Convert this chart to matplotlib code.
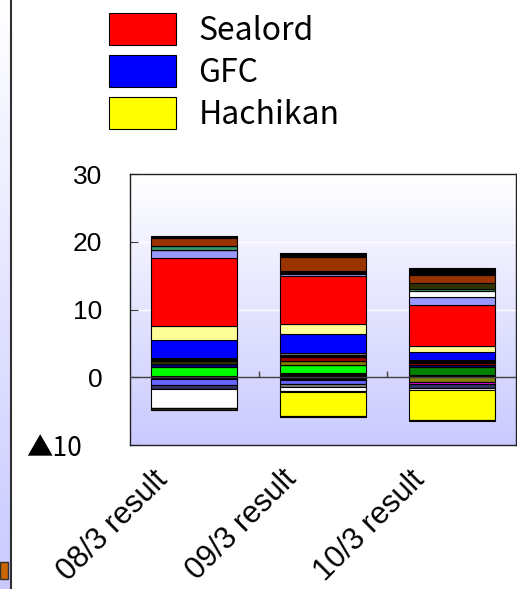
import numpy as np
import matplotlib.pyplot as plt
from matplotlib.patches import Rectangle
import matplotlib.transforms as mtransforms

categories = ['08/3 result', '09/3 result', '10/3 result']
y_ticks = [-10, 0, 10, 20, 30]
y_tick_labels = ['▲10', '0', '10', '20', '30']

# positive segments, listed bottom to top
pos_base_black = [0.15, 0.6, 0.35]
pos_lime = [1.4, 1.2, 0.0]
pos_green = [0.0, 0.0, 1.1]
pos_navy = [0.35, 0.0, 0.3]
pos_olive = [0.0, 0.6, 0.0]
pos_dark_olive = [0.5, 0.0, 0.0]
pos_dark_red = [0.0, 0.55, 0.4]
pos_black = [0.3, 0.35, 0.2]
pos_gray = [0.2, 0.35, 0.2]
gfc = [2.6, 2.8, 1.2]
pos_cream = [2.0, 1.35, 0.9]
sealord = [10.1, 7.1, 6.0]
pos_lavender = [1.2, 0.4, 1.2]
pos_black_mid = [0.0, 0.4, 0.0]
pos_white = [0.0, 0.0, 0.9]
pos_teal = [0.6, 0.0, 0.3]
pos_dark_olive_top = [0.0, 0.0, 0.9]
pos_brown = [1.1, 2.1, 1.2]
pos_black_top = [0.4, 0.6, 1.0]

# negative segments, listed from zero downwards
neg_black = [-0.3, -0.4, 0.0]
neg_olive = [0.0, 0.0, -0.65]
neg_magenta = [0.0, 0.0, -0.4]
neg_blue = [-0.9, -0.6, 0.0]
neg_navy = [-0.6, 0.0, -0.6]
neg_gray = [0.0, -0.5, 0.0]
neg_white = [-2.7, -0.5, -0.3]
neg_black_mid = [0.0, -0.2, 0.0]
hachikan = [0.0, -3.5, -4.3]
neg_bottom = [-0.3, -0.2, -0.2]

pos_stack = [
    (pos_base_black, '#000000'), (pos_lime, '#00FF00'), (pos_green, '#008000'),
    (pos_navy, '#000080'), (pos_olive, '#808000'), (pos_dark_olive, '#333300'),
    (pos_dark_red, '#990000'), (pos_black, '#000000'), (pos_gray, '#808080'),
    (gfc, '#0000FF'), (pos_cream, '#FFFF99'), (sealord, '#FF0000'),
    (pos_lavender, '#9999FF'), (pos_black_mid, '#000000'), (pos_white, '#FFFFFF'),
    (pos_teal, '#339966'), (pos_dark_olive_top, '#333300'), (pos_brown, '#993300'),
    (pos_black_top, '#000000'),
]
neg_stack = [
    (neg_black, '#000000'), (neg_olive, '#808000'), (neg_magenta, '#FF00FF'),
    (neg_blue, '#6666FF'), (neg_navy, '#333366'), (neg_gray, '#808080'),
    (neg_white, '#FFFFFF'), (neg_black_mid, '#000000'), (hachikan, '#FFFF00'),
    (neg_bottom, '#333300'),
]

fig = plt.figure(figsize=(5.17, 5.89), dpi=100)
ax = fig.add_axes([130 / 517, 144 / 589, 386 / 517, 271 / 589])

# gradient background of the plot area
grad = np.linspace(0, 1, 256)
bg = np.ones((256, 1, 3))
bg[:, 0, 0] = 1 - 0.21 * grad
bg[:, 0, 1] = 1 - 0.21 * grad
ax.imshow(bg, extent=[-0.5, 2.5, -10, 30], aspect='auto', zorder=0)

x = np.arange(len(categories))
w = 0.67
bottom = np.zeros(3)
handles = {}
for vals, col in pos_stack:
    v = np.array(vals)
    b = ax.bar(x, v, w, bottom=bottom, color=col, edgecolor='black', linewidth=0.8, zorder=3)
    handles[id(vals)] = b
    bottom += v
bottom = np.zeros(3)
for vals, col in neg_stack:
    v = np.array(vals)
    b = ax.bar(x, v, w, bottom=bottom, color=col, edgecolor='black', linewidth=0.8, zorder=3)
    handles[id(vals)] = b
    bottom += v

ax.set_xlim(-0.5, 2.5)
ax.set_ylim(-10, 30)
for yv in [10, 20]:
    ax.axhline(yv, color='white', lw=1, zorder=1)
ax.axhline(0, color='#404040', lw=1, zorder=4)
ax.vlines([0.5, 1.5], 0, 0.9, color='#404040', lw=1, zorder=4)

for s in ax.spines.values():
    s.set_color('#202020')
    s.set_linewidth(1)

ax.set_yticks(y_ticks)
ax.set_yticklabels(y_tick_labels, family='Liberation Sans', fontsize=19)
ax.tick_params(axis='y', direction='in', length=6, pad=20, color='#404040')
# the triangle (negative sign) comes from the CJK font, label sits further left
neg_lbl = ax.get_yticklabels()[0]
neg_lbl.set_family('Noto Sans CJK JP')
neg_lbl.set_transform(neg_lbl.get_transform() +
                      mtransforms.ScaledTranslation(-0.2, 0, fig.dpi_scale_trans))
ax.set_xticks(x)
ax.set_xticklabels(categories, rotation=45, ha='right', rotation_mode='anchor',
                   family='Liberation Sans', fontsize=22)
ax.tick_params(axis='x', length=0, pad=14)
offset = mtransforms.ScaledTranslation(-0.42, 0, fig.dpi_scale_trans)
for lbl in ax.get_xticklabels():
    lbl.set_transform(lbl.get_transform() + offset)

leg = fig.legend([handles[id(sealord)], handles[id(gfc)], handles[id(hachikan)]],
                 ['Sealord', 'GFC', 'Hachikan'],
                 loc='upper left', bbox_to_anchor=(93 / 517, 1 + 3 / 589),
                 frameon=False, borderpad=0, handlelength=2.1, handleheight=1.15,
                 handletextpad=0.7, labelspacing=0.26,
                 prop={'family': 'Noto Sans CJK JP', 'size': 23})

# strip of neighbouring chart at the left edge
sx = fig.add_axes([0, 0, 11 / 517, 1])
sx.imshow(bg, extent=[0, 1, 0, 1], aspect='auto')
sx.set_xlim(0, 1)
sx.set_ylim(0, 1)
sx.set_xticks([])
sx.set_yticks([])
for k in ['top', 'bottom', 'left']:
    sx.spines[k].set_visible(False)
sx.spines['right'].set_color('#303030')
sx.spines['right'].set_linewidth(1.5)
sx.add_patch(Rectangle((0, 10 / 589), 0.75, 17 / 589, facecolor='#CC6600', edgecolor='#303030', lw=1))

fig.savefig('out.png', dpi=100)
